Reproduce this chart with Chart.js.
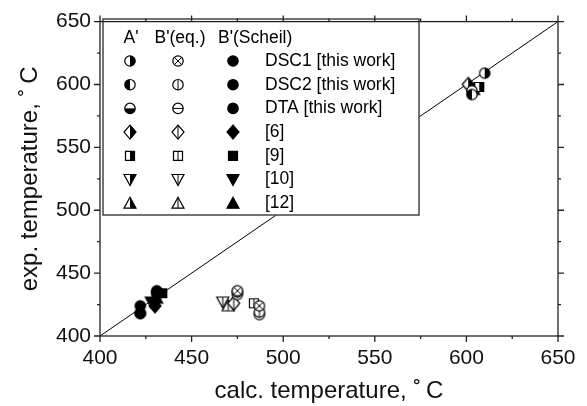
<!DOCTYPE html>
<html>
<head>
<meta charset="utf-8">
<script src="https://cdn.jsdelivr.net/npm/chart.js@4.4.1/dist/chart.umd.min.js"></script>
<style>
    body { margin: 0; background: #fff; }
</style>
</head>
<body>
<canvas id="tempChart" width="587" height="406"></canvas>
<script>
// legend rows and columns
const sources = ['DSC1 [this work]', 'DSC2 [this work]', 'DTA [this work]', '[6]', '[9]', '[10]', '[12]'];
const columnTitles = ["A'", "B'(eq.)", "B'(Scheil)"];
const shapes = ['circle', 'circle', 'circle', 'diamond', 'square', 'triDown', 'triUp'];
const fillA = ['right', 'left', 'bottom', 'right', 'right', 'right', 'right'];
const fillEq = ['cross', 'vline', 'hline', 'vline', 'vline', 'vline', 'vline'];

// calculated (x) and experimental (y) temperatures, one list per source
const aCalc = [[610], [603], [603], [601], [607], [602], [604]];
const aExp = [[609], [592], [595], [600], [598], [597], [596]];
const eqCalc = [[487, 475], [487, 475], [487, 475], [473], [484], [467], [470]];
const eqExp = [[424, 436], [419, 435], [417, 433], [426], [426], [427], [424]];
const scheilCalc = [[422, 431], [422, 431], [422, 431], [430], [434], [428], [431]];
const scheilExp = [[424, 436], [418, 435], [418, 433], [424], [434], [427], [430]];

const axisRange = [400, 650];
const diagonal = [400, 650];

const FONT = "'Liberation Sans', Arial, Helvetica, sans-serif";
Chart.defaults.font.family = FONT;
Chart.defaults.color = '#111';

function markerPath(ctx, shape, x, y) {
    ctx.beginPath();
    if (shape === 'circle') {
        ctx.arc(x, y, 5.2, 0, Math.PI * 2);
    } else if (shape === 'diamond') {
        ctx.moveTo(x, y - 7); ctx.lineTo(x + 6, y); ctx.lineTo(x, y + 7); ctx.lineTo(x - 6, y);
        ctx.closePath();
    } else if (shape === 'square') {
        ctx.rect(x - 4.5, y - 4.5, 9, 9);
    } else if (shape === 'triDown') {
        ctx.moveTo(x - 6, y - 5); ctx.lineTo(x + 6, y - 5); ctx.lineTo(x, y + 6);
        ctx.closePath();
    } else if (shape === 'triUp') {
        ctx.moveTo(x, y - 6); ctx.lineTo(x + 6, y + 5); ctx.lineTo(x - 6, y + 5);
        ctx.closePath();
    }
}

function drawMarker(ctx, shape, fill, x, y) {
    ctx.save();
    ctx.lineWidth = 1.2;
    ctx.strokeStyle = '#000';
    markerPath(ctx, shape, x, y);
    ctx.fillStyle = fill === 'full' ? '#000' : '#fff';
    ctx.fill();
    if (fill !== 'full') {
        ctx.save();
        ctx.clip();
        ctx.fillStyle = '#000';
        if (fill === 'right') ctx.fillRect(x, y - 10, 10, 20);
        if (fill === 'left') ctx.fillRect(x - 10, y - 10, 10, 20);
        if (fill === 'bottom') ctx.fillRect(x - 10, y, 20, 10);
        ctx.beginPath();
        if (fill === 'cross') {
            ctx.moveTo(x - 6, y - 6); ctx.lineTo(x + 6, y + 6);
            ctx.moveTo(x + 6, y - 6); ctx.lineTo(x - 6, y + 6);
        }
        if (fill === 'vline') { ctx.moveTo(x, y - 10); ctx.lineTo(x, y + 10); }
        if (fill === 'hline') { ctx.moveTo(x - 10, y); ctx.lineTo(x + 10, y); }
        ctx.lineWidth = 1;
        ctx.stroke();
        ctx.restore();
    }
    markerPath(ctx, shape, x, y);
    ctx.stroke();
    ctx.restore();
}

function makeMarker(shape, fill) {
    const c = document.createElement('canvas');
    c.width = 18;
    c.height = 18;
    drawMarker(c.getContext('2d'), shape, fill, 9, 9);
    return c;
}

const datasets = [{
    type: 'line',
    label: 'diagonal',
    data: diagonal.map(v => ({ x: v, y: v })),
    borderColor: '#000',
    borderWidth: 1,
    pointRadius: 0,
    order: 10
}];

sources.forEach((src, i) => {
    const cols = [
        [aCalc, aExp, fillA[i]],
        [eqCalc, eqExp, fillEq[i]],
        [scheilCalc, scheilExp, 'full']
    ];
    cols.forEach(([xs, ys, fill], c) => {
        datasets.push({
            label: src + ' ' + columnTitles[c],
            data: xs[i].map((v, k) => ({ x: v, y: ys[i][k] })),
            pointStyle: makeMarker(shapes[i], fill),
            pointRadius: 8,
            pointHoverRadius: 8,
            order: 1
        });
    });
});

// frame, ticks on all four sides and the boxed legend
const framePlugin = {
    id: 'frame',
    afterDraw(chart) {
        const { ctx, chartArea: a, scales: { x, y } } = chart;
        ctx.save();
        // legend box
        const lx = 103, ly = 19, lw = 316, lh = 196;
        ctx.fillStyle = '#fff';
        ctx.fillRect(lx, ly, lw, lh);
        ctx.strokeStyle = '#444';
        ctx.lineWidth = 1.5;
        ctx.strokeRect(lx, ly, lw, lh);

        ctx.fillStyle = '#000';
        ctx.font = '17.5px ' + FONT;
        ctx.textBaseline = 'middle';
        ctx.textAlign = 'center';
        ctx.fillText(columnTitles[0], 131, 38);
        ctx.fillText(columnTitles[1], 180, 38);
        ctx.textAlign = 'left';
        ctx.fillText(columnTitles[2], 218, 38);
        sources.forEach((src, i) => {
            const ry = 61 + i * 23.7;
            drawMarker(ctx, shapes[i], fillA[i], 130, ry);
            drawMarker(ctx, shapes[i], fillEq[i], 178, ry);
            drawMarker(ctx, shapes[i], 'full', 233, ry);
            ctx.fillStyle = '#000';
            ctx.fillText(src, 265, ry);
        });

        // plot frame
        ctx.strokeStyle = '#222';
        ctx.lineWidth = 1.3;
        ctx.strokeRect(a.left, a.top, a.right - a.left, a.bottom - a.top);
        ctx.beginPath();
        for (let v = axisRange[0]; v <= axisRange[1]; v += 25) {
            const len = v % 50 === 0 ? 6 : 3;
            const px = x.getPixelForValue(v);
            const py = y.getPixelForValue(v);
            ctx.moveTo(px, a.bottom); ctx.lineTo(px, a.bottom + len);
            ctx.moveTo(px, a.top); ctx.lineTo(px, a.top - len);
            ctx.moveTo(a.left, py); ctx.lineTo(a.left - len, py);
            ctx.moveTo(a.right, py); ctx.lineTo(a.right + len, py);
        }
        ctx.stroke();
        ctx.restore();
    }
};

new Chart(document.getElementById('tempChart'), {
    type: 'scatter',
    data: { datasets },
    options: {
        responsive: false,
        animation: false,
        layout: { padding: { top: 16, right: 29, left: 0, bottom: 0 } },
        plugins: { legend: { display: false }, tooltip: { enabled: false } },
        scales: {
            x: {
                min: axisRange[0],
                max: axisRange[1],
                afterFit: s => { s.height = 70; },
                grid: { display: false, drawTicks: false },
                border: { display: false },
                ticks: { stepSize: 50, padding: 10, font: { size: 21 } },
                title: {
                    display: true,
                    text: 'calc. temperature, \u02DA\u2009C',
                    font: { size: 24 },
                    padding: { top: 0, bottom: 0 }
                }
            },
            y: {
                min: axisRange[0],
                max: axisRange[1],
                afterFit: s => { s.width = 100; },
                grid: { display: false, drawTicks: false },
                border: { display: false },
                ticks: { stepSize: 50, padding: 9, font: { size: 21 } },
                title: {
                    display: true,
                    text: 'exp. temperature, \u02DA\u2009C',
                    font: { size: 24 },
                    padding: { top: 16, bottom: 0 }
                }
            }
        }
    },
    plugins: [framePlugin]
});
</script>
</body>
</html>
